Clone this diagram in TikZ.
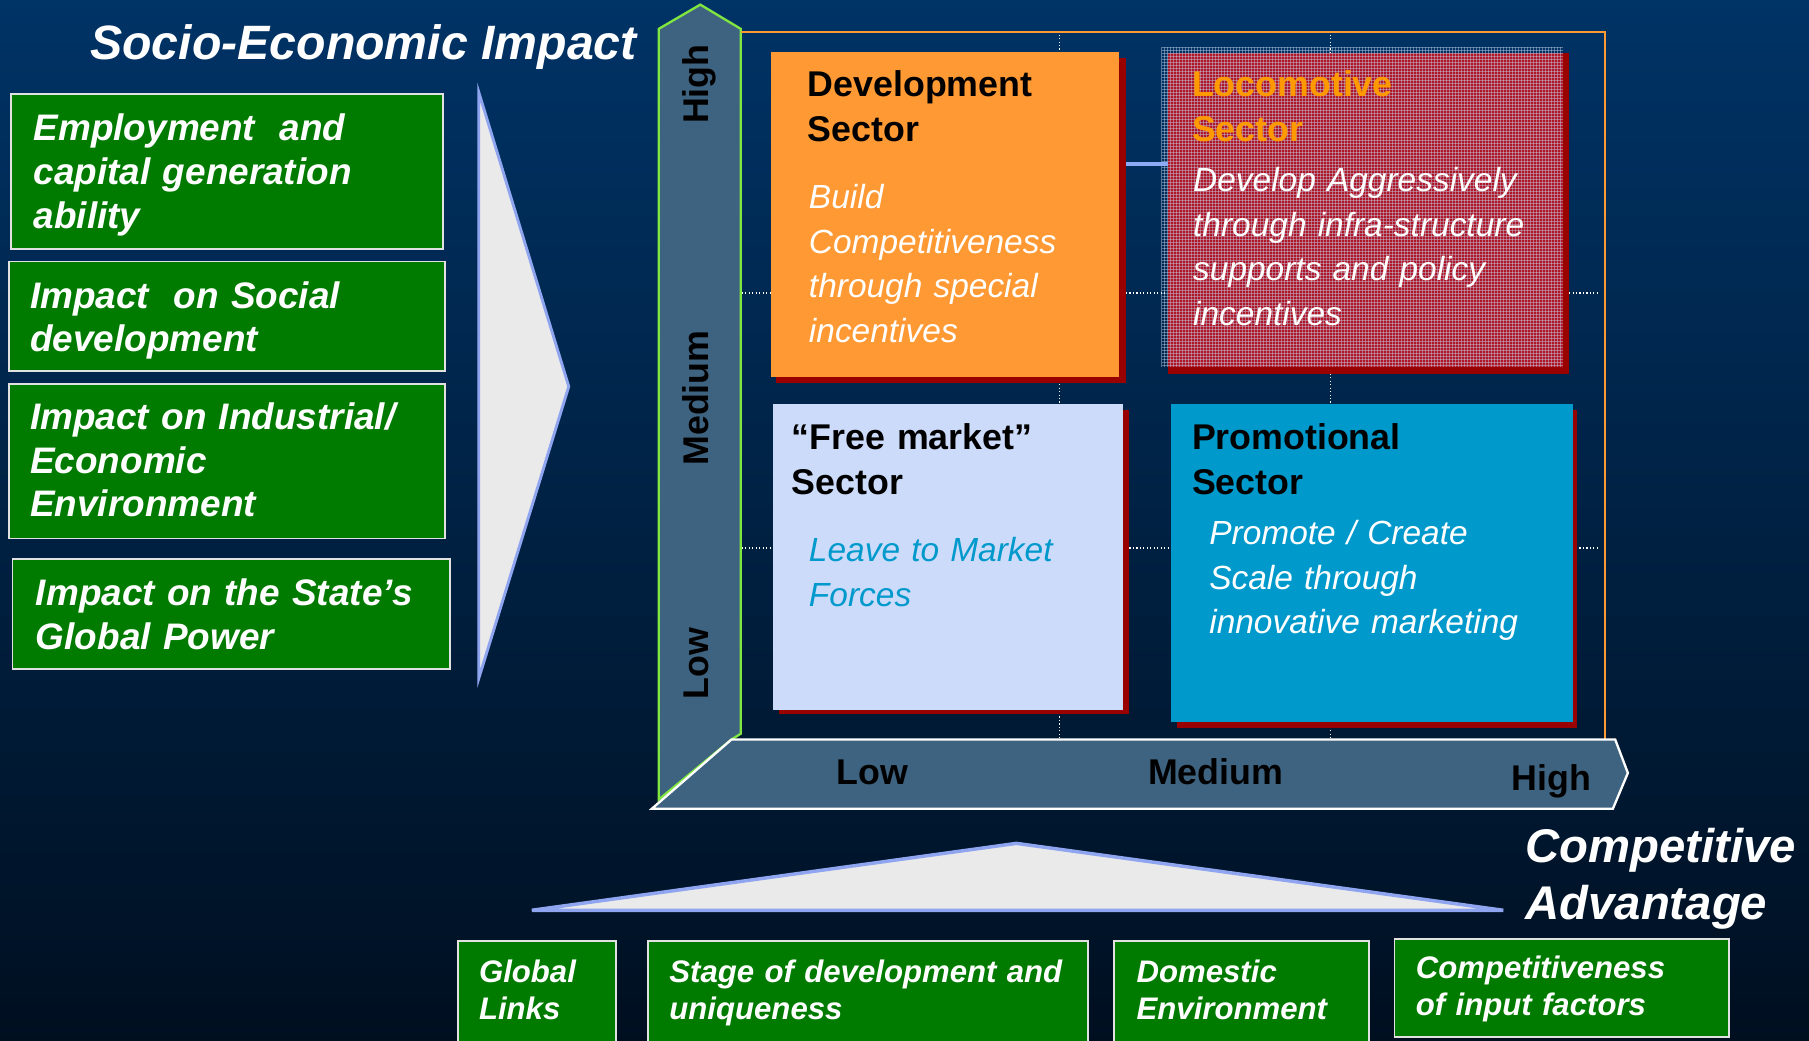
\documentclass[tikz,border=0pt]{standalone}
\usepackage{fontspec}
\setmainfont{Liberation Sans}
\usetikzlibrary{positioning}

\definecolor{bgtop}{RGB}{0,51,102}
\definecolor{bgmid}{RGB}{0,38,80}
\definecolor{bgbot}{RGB}{0,15,32}
\definecolor{leafgreen}{RGB}{0,123,0}
\definecolor{paleedge}{RGB}{225,225,225}
\definecolor{arrowgrey}{RGB}{234,234,234}
\definecolor{arrowblue}{RGB}{143,165,240}
\definecolor{slate}{RGB}{62,99,128}
\definecolor{axisgreen}{RGB}{128,230,64}
\definecolor{devorange}{RGB}{255,153,51}
\definecolor{locoorange}{RGB}{255,153,0}
\definecolor{shadowred}{RGB}{153,0,0}
\definecolor{locored}{RGB}{175,22,40}
\definecolor{freeblue}{RGB}{204,219,250}
\definecolor{promoblue}{RGB}{0,153,204}
\definecolor{meshblue}{RGB}{195,210,235}
\definecolor{linkblue}{RGB}{140,170,245}

\tikzset{
  gbox/.style={draw=paleedge, line width=1.5pt, fill=leafgreen, inner sep=0pt, anchor=north west},
  gtext/.style={text=white, font=\fontsize{32}{38}\selectfont\bfseries\itshape, text width=360pt, align=left, anchor=base west, inner sep=0pt},
  ftext/.style={text=white, font=\fontsize{27}{32}\selectfont\bfseries\itshape, text width=370pt, align=left, anchor=base west, inner sep=0pt},
  bigital/.style={text=white, font=\fontsize{41}{49}\selectfont\bfseries\itshape, inner sep=0pt},
  quad/.style={inner sep=0pt, anchor=north west},
  head/.style={font=\fontsize{31}{39}\selectfont\bfseries, text width=320pt, align=left, anchor=base west, inner sep=0pt},
  desc/.style={font=\fontsize{29}{38.6}\selectfont\itshape, text width=340pt, align=left, anchor=base west, inner sep=0pt},
  axislab/.style={font=\fontsize{31}{31}\selectfont\bfseries, inner sep=0pt},
  gridline/.style={white, line width=1pt, dash pattern=on 1pt off 2pt},
  mesh/.style={meshblue, line width=0.6pt, opacity=0.45}
}

\begin{document}
\begin{tikzpicture}[x=1pt,y=-1pt]
      \useasboundingbox (0,0) rectangle (1568,902);
      \shade[top color=bgtop, middle color=bgmid, bottom color=bgbot] (0,0) rectangle (1568,902);

      \node[bigital, font=\fontsize{41.8}{42}\selectfont\bfseries\itshape, anchor=base west] (socio) at (78,52) {Socio-Economic Impact};

      \foreach \bx/\by/\bw/\bh [count=\i] in {9/81/374/134, 7/226/378/95, 7/332/378/134, 10/484/379/95}
        \node[gbox, minimum width=\bw pt, minimum height=\bh pt] (imp\i) at (\bx,\by) {};
      \node[gtext] (impt1) at (29,122) {Employment\ \ and\\capital generation\\ability};
      \node[gtext] (impt2) at (26,267) {Impact\ \ on Social\\development};
      \node[gtext] (impt3) at (26,372) {Impact on Industrial/\\Economic\\Environment};
      \node[gtext] (impt4) at (31,525) {Impact on the State’s\\Global Power};

      \coordinate (a1) at (415,80);
      \coordinate (a2) at (493,335);
      \coordinate (a3) at (415,588);
      \filldraw[fill=arrowgrey, draw=arrowblue, line width=2.5pt] (a1) -- (a2) -- (a3) -- cycle;

      \filldraw[fill=slate, draw=axisgreen, line width=2pt] (571,693) -- (571,25) -- (607,4) -- (642,25) -- (642,636) -- (634,641) -- cycle;
      \draw[devorange, line width=2pt] (642,28) -- (1391,28) -- (1391,641);

      \foreach \gx in {918,1153} \draw[gridline] (\gx,30) -- (\gx,640);
      \foreach \gy in {254,475} \draw[gridline] (643,\gy) -- (1386,\gy);

      \filldraw[fill=slate, draw=white, line width=2pt] (565,701) -- (634,641) -- (1400,641) -- (1411,670) -- (1398,701) -- cycle;

      \foreach \t/\ty [count=\i] in {High/73, Medium/345, Low/575}
        \node[axislab, rotate=90, anchor=base] (sia\i) at (614,\ty) {\t};
      \foreach \t/\tx/\ty [count=\i] in {Low/725/680, Medium/995/680, High/1310/685}
        \node[axislab, anchor=base west] (caa\i) at (\tx,\ty) {\t};

      \fill[shadowred] (673,50) rectangle (976,332);
      \node[quad, fill=devorange, minimum width=302pt, minimum height=282pt] (dev) at (668,45) {};
      \node[head] (devh) at (700,84) {Development\\Sector};
      \node[desc, text=white] (devd) at (701,181) {Build\\Competitiveness\\through special\\incentives};

      \fill[shadowred] (1012,46) rectangle (1360,324);
      \fill[locored] (1012,46) rectangle (1355,318);
      \node[quad, minimum width=348pt, minimum height=277pt] (loco) at (1007,41) {};
      \foreach \mx in {1007,1009.6,...,1355} \draw[mesh] (\mx,41) -- (\mx,318);
      \foreach \my in {41,43.6,...,318} \draw[mesh] (1007,\my) -- (1355,\my);
      \coordinate (lk1) at (976,142);
      \coordinate (lk2) at (1012,142);
      \draw[linkblue, line width=4pt] (lk1) -- (lk2);
      \node[head, text=locoorange] (locoh) at (1033,84) {Locomotive\\Sector};
      \node[desc, text=white] (locod) at (1034,166) {Develop Aggressively\\through infra-structure\\supports and policy\\incentives};

      \fill[shadowred] (675,355) rectangle (979,619);
      \node[quad, fill=freeblue, minimum width=303pt, minimum height=265pt] (free) at (670,350) {};
      \node[head] (freeh) at (686,390) {“Free market”\\Sector};
      \node[desc, text=promoblue] (freed) at (701,487) {Leave to Market\\Forces};

      \fill[shadowred] (1020,355) rectangle (1367,631);
      \node[quad, fill=promoblue, minimum width=348pt, minimum height=276pt] (promo) at (1015,350) {};
      \node[head] (promoh) at (1033,390) {Promotional\\Sector};
      \node[desc, text=white] (promod) at (1048,472) {Promote / Create\\Scale through\\innovative marketing};

      \coordinate (b1) at (461,789);
      \coordinate (b2) at (881,731);
      \coordinate (b3) at (1303,789);
      \filldraw[fill=arrowgrey, draw=arrowblue, line width=3pt] (b1) -- (b2) -- (b3) -- cycle;

      \node[bigital, text width=250pt, align=left, anchor=base west] (compadv) at (1322,748) {Competitive\\Advantage};

      \foreach \bx/\by/\bw/\bh [count=\i] in {396/815/137/92, 561/815/381/92, 965/815/221/92, 1208/813/290/85}
        \node[gbox, minimum width=\bw pt, minimum height=\bh pt] (fac\i) at (\bx,\by) {};
      \node[ftext] (fact1) at (415,852) {Global\\Links};
      \node[ftext] (fact2) at (580,852) {Stage of development and\\uniqueness};
      \node[ftext] (fact3) at (985,852) {Domestic\\Environment};
      \node[ftext] (fact4) at (1227,848) {Competitiveness\\of input factors};
\end{tikzpicture}
\end{document}
